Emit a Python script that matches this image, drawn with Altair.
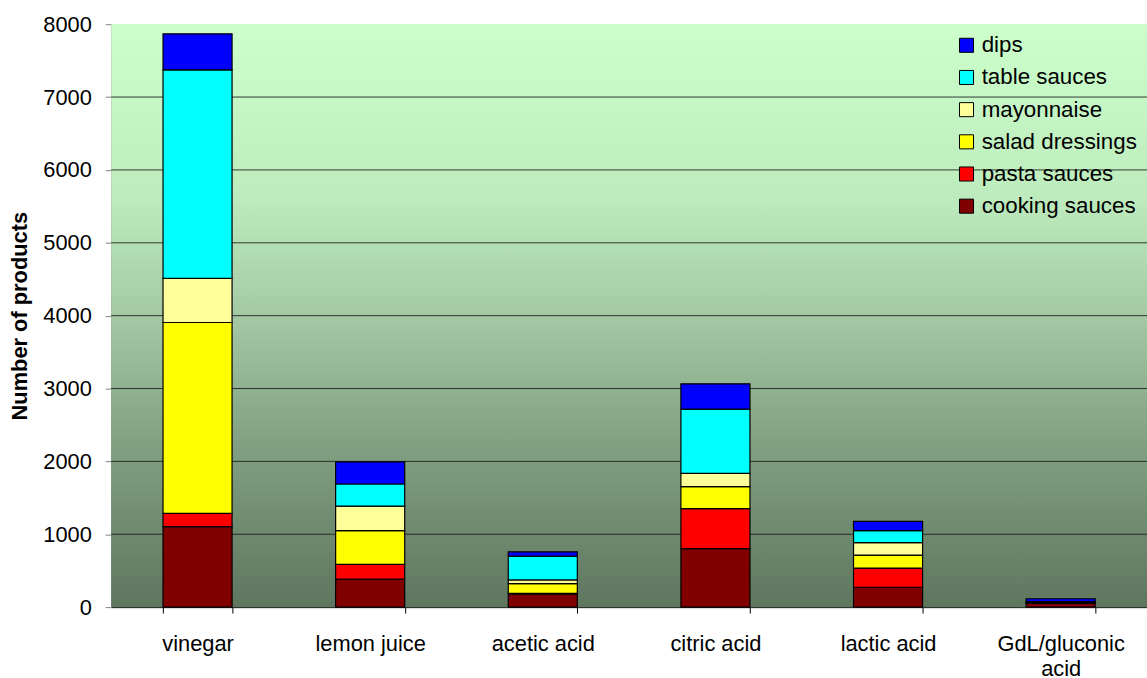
import altair as alt
import pandas as pd

categories = ["vinegar", "lemon juice", "acetic acid", "citric acid", "lactic acid", "GdL/gluconic acid"]
series = ["cooking sauces", "pasta sauces", "salad dressings", "mayonnaise", "table sauces", "dips"]
colors = ["#800000", "#FF0000", "#FFFF00", "#FFFF99", "#00FFFF", "#0000FF"]

cooking_sauces = [1104, 386, 180, 804, 273, 50]
pasta_sauces = [182, 200, 10, 549, 263, 5]
salad_dressings = [2620, 463, 133, 301, 178, 5]
mayonnaise = [605, 337, 50, 182, 172, 5]
table_sauces = [2863, 304, 327, 882, 164, 10]
dips = [494, 304, 59, 346, 127, 40]

y_ticks = [0, 1000, 2000, 3000, 4000, 5000, 6000, 7000, 8000]

values = [cooking_sauces, pasta_sauces, salad_dressings, mayonnaise, table_sauces, dips]
rows = []
for si, (s, vals) in enumerate(zip(series, values)):
    for c, v in zip(categories, vals):
        rows.append({"category": c, "series": s, "value": v, "order": si})
df = pd.DataFrame(rows)

legend_order = list(reversed(series))
legend_colors = list(reversed(colors))

font = "Liberation Sans"
W, H = 1043, 587

gradient = alt.LinearGradient(
    gradient="linear", x1=0, y1=0, x2=0, y2=1,
    stops=[
        alt.GradientStop(offset=0, color="#CCFFCC"),
        alt.GradientStop(offset=0.3, color="#BDEBBD"),
        alt.GradientStop(offset=0.5, color="#A4C9A4"),
        alt.GradientStop(offset=0.7, color="#84A484"),
        alt.GradientStop(offset=1, color="#5E765E"),
    ],
)

bg = alt.Chart(pd.DataFrame({"a": [0]})).mark_rect(color=gradient).encode(
    x=alt.value(0), x2=alt.value(W), y=alt.value(0), y2=alt.value(H)
)

grid = alt.Chart(pd.DataFrame({"t": y_ticks[1:-1]})).mark_rule(
    color="#1a1a1a", strokeWidth=1, opacity=0.85
).encode(y=alt.Y("t:Q"))

yscale = alt.Scale(domain=[0, 8000], nice=False)

bars = alt.Chart(df).mark_bar(stroke="black", strokeWidth=1.2).encode(
    x=alt.X("category:N", sort=categories,
            scale=alt.Scale(paddingInner=0.6, paddingOuter=0.3),
            axis=alt.Axis(title=None, labelAngle=0, tickBand="extent", grid=False,
                          labelFontSize=22, labelColor="black", labelFont=font,
                          tickSize=6, labelPadding=21, domainColor="black",
                          tickColor="black", labelLimit=300,
                          labelExpr="datum.label == 'GdL/gluconic acid' ? ['GdL/gluconic', 'acid'] : datum.label",
                          labelLineHeight=25)),
    y=alt.Y("value:Q", stack="zero", scale=yscale,
            axis=alt.Axis(title="Number of products", values=y_ticks, grid=False, format="d",
                          titleFontSize=22, titleFont=font, titleFontWeight="bold",
                          titleColor="black", titlePadding=11,
                          labelFontSize=22, labelFont=font, labelColor="black",
                          tickSize=6, labelPadding=14, domainColor="#808080",
                          tickColor="#808080")),
    color=alt.Color("series:N",
                    scale=alt.Scale(domain=legend_order, range=legend_colors),
                    legend=alt.Legend(title=None, orient="none", legendX=850, legendY=10,
                                      symbolType="square", symbolSize=200,
                                      symbolStrokeColor="black", symbolStrokeWidth=1,
                                      labelFontSize=22.5, labelFont=font, labelColor="black",
                                      rowPadding=9.4, symbolOffset=0, labelOffset=4,
                                      symbolOpacity=1)),
    order=alt.Order("order:Q", sort="ascending"),
)

chart = alt.layer(bg, grid, bars).resolve_scale(y="shared").properties(
    width=W, height=H,
    autosize=alt.AutoSizeParams(type="none"),
    padding={"left": 112, "top": 22, "right": 0, "bottom": 69},
).configure_view(
    stroke="#909090",
    strokeWidth=1,
).configure(background="white")

chart.save("out.html", embed_options={"renderer": "svg", "actions": False})
